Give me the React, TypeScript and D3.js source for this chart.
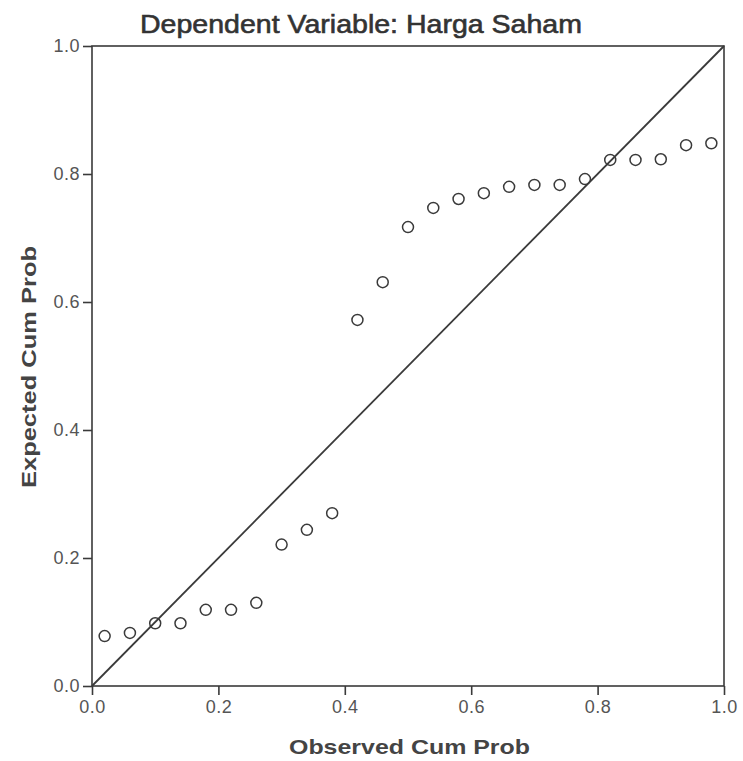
import { useEffect, useRef } from 'react'
import * as d3 from 'd3'

// P-P plot of regression standardized residual
const observed = [
  0.02, 0.06, 0.1, 0.14, 0.18, 0.22, 0.26, 0.3, 0.34, 0.38, 0.42, 0.46, 0.5,
  0.54, 0.58, 0.62, 0.66, 0.7, 0.74, 0.78, 0.82, 0.86, 0.9, 0.94, 0.98,
]
const expected = [
  0.078, 0.083, 0.098, 0.098, 0.119, 0.119, 0.13, 0.221, 0.244, 0.27, 0.572,
  0.631, 0.717, 0.747, 0.761, 0.77, 0.78, 0.783, 0.783, 0.792, 0.822, 0.822,
  0.823, 0.845, 0.848,
]
const tickValues = [0, 0.2, 0.4, 0.6, 0.8, 1.0]

const App = () => {
  const svgRef = useRef<SVGSVGElement>(null)

  useEffect(() => {
    if (!svgRef.current) return
    const W = 743
    const H = 761
    const margin = { top: 46, right: 19, bottom: 75, left: 92 }
    const width = W - margin.left - margin.right
    const height = H - margin.top - margin.bottom
    const ink = '#3a3a3a'
    const font = '"Liberation Sans", Arial, sans-serif'

    const root = d3.select(svgRef.current)
    root.selectAll('*').remove()
    root.attr('width', W).attr('height', H)
    root.append('rect').attr('width', W).attr('height', H).attr('fill', 'white')

    const svg = root.append('g').attr('transform', `translate(${margin.left},${margin.top})`)

    const x = d3.scaleLinear().domain([0, 1]).range([0, width])
    const y = d3.scaleLinear().domain([0, 1]).range([height, 0])

    // frame
    svg
      .append('rect')
      .attr('width', width)
      .attr('height', height)
      .attr('fill', 'none')
      .attr('stroke', ink)
      .attr('stroke-width', 1.6)

    const xAxis = svg
      .append('g')
      .attr('transform', `translate(0,${height})`)
      .call(d3.axisBottom(x).tickValues(tickValues).tickSize(9).tickPadding(5).tickFormat(d3.format('.1f')))
    const yAxis = svg
      .append('g')
      .call(d3.axisLeft(y).tickValues(tickValues).tickSize(9).tickPadding(3).tickFormat(d3.format('.1f')))

    ;[xAxis, yAxis].forEach((a) => {
      a.select('.domain').remove()
      a.selectAll('line').attr('stroke', ink).attr('stroke-width', 1.6)
      a.selectAll('text')
        .style('font-size', '18px')
        .style('font-family', font)
        .style('letter-spacing', '0.5px')
        .attr('fill', '#555')
    })

    // reference diagonal
    svg
      .append('line')
      .attr('x1', x(0))
      .attr('y1', y(0))
      .attr('x2', x(1))
      .attr('y2', y(1))
      .attr('stroke', ink)
      .attr('stroke-width', 1.8)

    const pts = observed.map((o, i) => ({ o, e: expected[i] }))
    svg
      .selectAll('.pt')
      .data(pts)
      .enter()
      .append('circle')
      .attr('class', 'pt')
      .attr('cx', (d) => x(d.o))
      .attr('cy', (d) => y(d.e))
      .attr('r', 5.5)
      .attr('fill', 'none')
      .attr('stroke', ink)
      .attr('stroke-width', 1.5)

    // title
    root
      .append('text')
      .attr('x', 140)
      .attr('y', 33)
      .attr('textLength', 442)
      .attr('lengthAdjust', 'spacingAndGlyphs')
      .style('font-size', '26px')
      .style('font-family', font)
      .attr('fill', '#333')
      .attr('stroke', '#333')
      .attr('stroke-width', 0.6)
      .text('Dependent Variable: Harga Saham')

    root
      .append('text')
      .attr('x', 289)
      .attr('y', 754)
      .attr('textLength', 241)
      .attr('lengthAdjust', 'spacingAndGlyphs')
      .style('font-size', '21px')
      .style('font-weight', 'bold')
      .style('font-family', font)
      .attr('fill', '#444')
      .text('Observed Cum Prob')

    root
      .append('text')
      .attr('transform', `translate(36,488) rotate(-90)`)
      .attr('textLength', 242)
      .attr('lengthAdjust', 'spacingAndGlyphs')
      .style('font-size', '21px')
      .style('font-weight', 'bold')
      .style('font-family', font)
      .attr('fill', '#444')
      .text('Expected Cum Prob')
  }, [])

  return <svg ref={svgRef} style={{ position: 'absolute', left: 0, top: 0 }}></svg>
}

export default App
